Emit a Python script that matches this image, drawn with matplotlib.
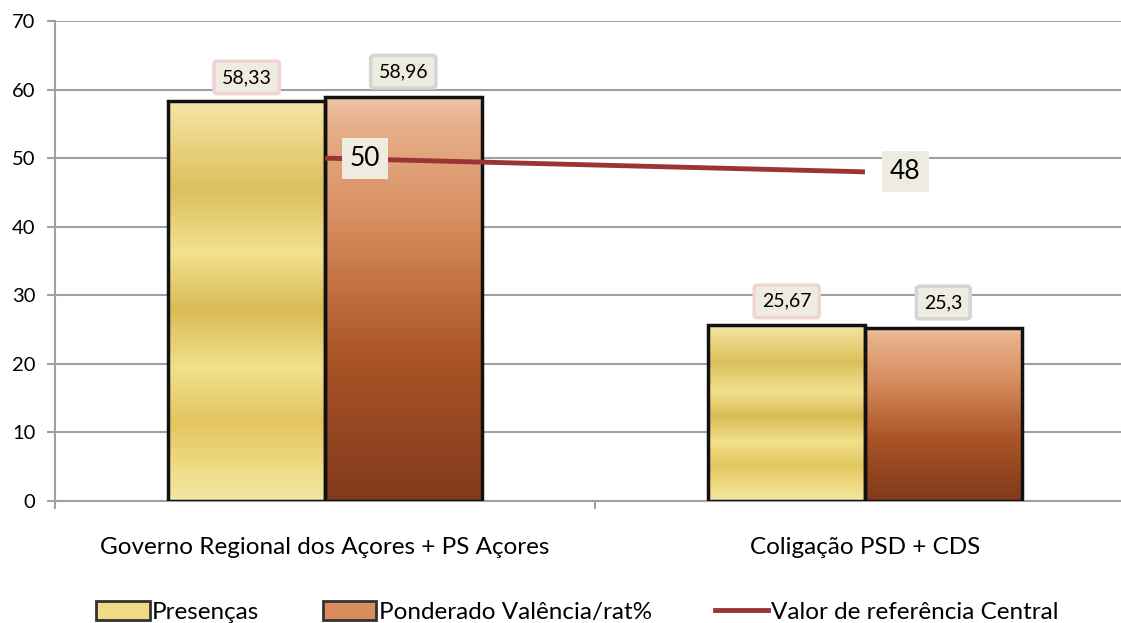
import numpy as np
import matplotlib
matplotlib.use("Agg")
import matplotlib.pyplot as plt
from matplotlib.colors import LinearSegmentedColormap
from matplotlib.patches import Patch
from matplotlib.lines import Line2D

categories = ["Governo Regional dos Açores + PS Açores", "Coligação PSD + CDS"]
presencas = [58.33, 25.67]
ponderado = [58.96, 25.3]
referencia = [50, 48]
presencas_labels = ["58,33", "25,67"]
ponderado_labels = ["58,96", "25,3"]
referencia_labels = ["50", "48"]
series_names = ["Presenças", "Ponderado Valência/rat%", "Valor de referência Central"]

plt.rcParams['font.family'] = ['Lato', 'DejaVu Sans']

fig = plt.figure(figsize=(11.21, 6.23), dpi=100)
ax = fig.add_axes([55/1121, 122/623, 1066/1121, 480/623])

x = np.arange(len(categories))
w = 0.29
grid_c = "#A0A0A0"

ax.set_ylim(0, 70)
ax.set_xlim(-0.5, -0.5 + 1066/540)
ax.set_yticks(range(0, 71, 10))
ax.yaxis.grid(True, color=grid_c, lw=1.5)
ax.set_axisbelow(True)
for s in ["top", "right"]:
    ax.spines[s].set_visible(False)
for s in ["left", "bottom"]:
    ax.spines[s].set_color(grid_c)
    ax.spines[s].set_linewidth(1.5)
ax.tick_params(axis="y", length=6, width=1.5, color=grid_c, labelsize=14.5, pad=8)
ax.set_xticks([-0.5, 0.5])
ax.set_xticklabels(["", ""])
ax.tick_params(axis="x", length=6, width=1.5, color=grid_c)
ax.set_xticks(x, minor=True)
ax.set_xticklabels(categories, minor=True, fontsize=17.5)
ax.tick_params(axis="x", which="minor", length=0, pad=26)

cm_yellow = LinearSegmentedColormap.from_list("y", [
    (0.0, "#F3E7A6"), (0.08, "#F0DC84"), (0.2, "#E2C55E"), (0.33, "#F2E08C"),
    (0.48, "#D9BC55"), (0.62, "#F3E190"), (0.78, "#DCC05C"), (0.92, "#EDD88A"),
    (1.0, "#F5E6A8")])
cm_brown = LinearSegmentedColormap.from_list("b", [
    (0.0, "#823A1C"), (0.35, "#A95326"), (0.7, "#D88E60"), (0.93, "#E6AF8A"), (1.0, "#EEC4A5")])

def grad_bars(bars, cmap):
    for b in bars:
        bx, by = b.get_x(), b.get_y()
        bw, bh = b.get_width(), b.get_height()
        g = np.linspace(0, 1, 256).reshape(-1, 1)
        im = ax.imshow(g, cmap=cmap, origin="lower", aspect="auto",
                       extent=[bx, bx + bw, by, by + bh], zorder=2)
        im.set_clip_path(b)

b1 = ax.bar(x - w/2, presencas, width=w, facecolor="none", edgecolor="#111111", lw=2.5, zorder=3)
b2 = ax.bar(x + w/2, ponderado, width=w, facecolor="none", edgecolor="#111111", lw=2.5, zorder=3)
grad_bars(b1, cm_yellow)
grad_bars(b2, cm_brown)

ax.plot(x, referencia, color="#9B3535", lw=3.5, zorder=4, solid_capstyle="butt")

for xi, v, lab in zip(x - w/2, presencas, presencas_labels):
    ax.annotate(lab, (xi, v), xytext=(0, 17), textcoords="offset points", ha="center", va="center",
                fontsize=14, zorder=6,
                bbox=dict(boxstyle="round,pad=0.4,rounding_size=0.15", fc="#EEEBE0", ec="#F0D4D4", lw=2.5))
for xi, v, lab in zip(x + w/2, ponderado, ponderado_labels):
    ax.annotate(lab, (xi, v), xytext=(0, 18), textcoords="offset points", ha="center", va="center",
                fontsize=14, zorder=6,
                bbox=dict(boxstyle="round,pad=0.4,rounding_size=0.15", fc="#EEEBE0", ec="#D5D5D5", lw=2.5))
for xi, v, lab in zip(x, referencia, referencia_labels):
    ax.annotate(lab, (xi, v), xytext=(29, 0), textcoords="offset points", ha="center", va="center",
                fontsize=19, zorder=6,
                bbox=dict(boxstyle="square,pad=0.3", fc="#EEEBE0", ec="none"))

handles = [Patch(facecolor="#EFDC85", edgecolor="#333333", lw=2),
           Patch(facecolor="#D98D5E", edgecolor="#333333", lw=2),
           Line2D([0], [0], color="#9B3535", lw=3.5)]
fig.legend(handles, series_names, loc="center", bbox_to_anchor=(0.515, 0.018),
           ncol=3, frameon=False, fontsize=17.5, handlelength=2.2, handleheight=0.8,
           handletextpad=0.1, columnspacing=2.6)

fig.savefig("out.png", dpi=100)
